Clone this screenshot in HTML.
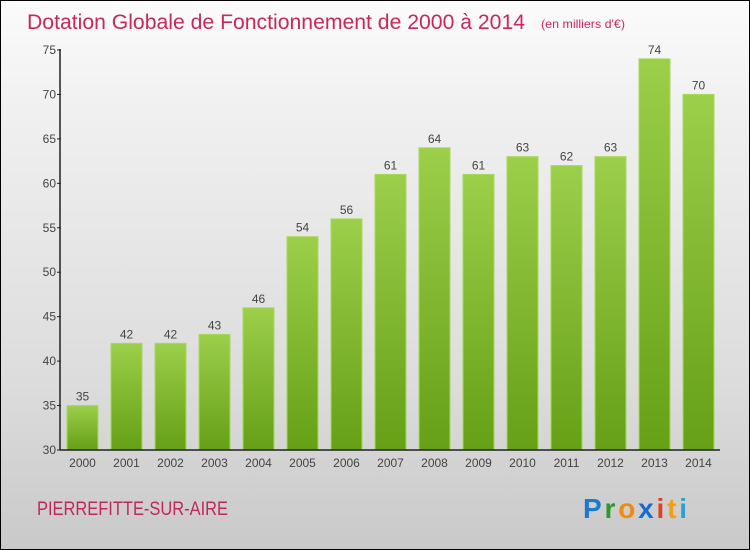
<!DOCTYPE html>
<html><head><meta charset="utf-8"><style>
body{margin:0}
#c{position:relative;width:748px;height:548px;border:1px solid #000;background:linear-gradient(#fbfbfb,#f0f0f0 20%,#dcdcdc 70%,#c9c9c9);font-family:"Liberation Sans",sans-serif;overflow:hidden}
</style></head><body>
<div id="c">
<svg id="s" width="748" height="548">
<defs><linearGradient id="g" x1="0" y1="0" x2="0" y2="1"><stop offset="0" stop-color="#9ccf4a"/><stop offset="1" stop-color="#65a015"/></linearGradient></defs>
<text x="26" y="28" font-size="21" fill="#c8285a" textLength="498" lengthAdjust="spacingAndGlyphs">Dotation Globale de Fonctionnement de 2000 à 2014</text>
<text x="540" y="27" font-size="12" fill="#c8285a" textLength="84" lengthAdjust="spacingAndGlyphs">(en milliers d'€)</text>
<text x="36" y="514" font-size="19" fill="#c0285a" textLength="191" lengthAdjust="spacingAndGlyphs">PIERREFITTE-SUR-AIRE</text>
<text x="582" y="517" font-size="28" font-weight="bold" textLength="104"><tspan fill="#1a7ad0">P</tspan><tspan fill="#2a9a30">r</tspan><tspan fill="#f08a10">o</tspan><tspan fill="#1a6ad0">x</tspan><tspan fill="#e04020">i</tspan><tspan fill="#f0a010">t</tspan><tspan fill="#30a0d0">i</tspan></text>
<g id="plot"></g>
</svg>
</div>
<script>
const years=["2000","2001","2002","2003","2004","2005","2006","2007","2008","2009","2010","2011","2012","2013","2014"];
const values=[35,42,42,43,46,54,56,61,64,61,63,62,63,74,70];
const yTicks=[30,35,40,45,50,55,60,65,70,75];
const NS="http://www.w3.org/2000/svg";
const g=document.getElementById('plot');
const x0=59,x1=719,yb=449,yt=49,vmin=30,vmax=75;
const y=v=>yb-(v-vmin)/(vmax-vmin)*(yb-yt);
const step=44,bw=31,bx=i=>66+i*step;
function el(t,a,txt){const e=document.createElementNS(NS,t);for(const k in a)e.setAttribute(k,a[k]);if(txt!=null)e.textContent=txt;g.appendChild(e);return e;}
years.forEach((yr,i)=>{
 const r=el('rect',{x:bx(i),y:y(values[i]),width:bw,height:yb-y(values[i]),fill:'url(#g)',stroke:'#a8d860','stroke-width':1});
 
 
 const t=el('text',{x:bx(i)+bw/2,y:y(values[i])-5,'font-size':12,fill:'#444','text-anchor':'middle'},values[i]);
 
 
 const xl=el('text',{x:bx(i)+bw/2,y:466,'font-size':12,fill:'#444','text-anchor':'middle'},yr);
 
 
});
yTicks.forEach(v=>{
 const tk=el('line',{x1:x0-3,x2:x0+1,y1:y(v),y2:y(v),stroke:'#222'});
 
 
 const tl=el('text',{x:x0-4,y:y(v)+4,'font-size':12,fill:'#444','text-anchor':'end'},v);
 
 
});
const ya=el('line',{x1:x0,x2:x0,y1:yt-1,y2:yb,stroke:'#222','stroke-width':1.5});


const xa=el('line',{x1:x0,x2:x1,y1:yb,y2:yb,stroke:'#222','stroke-width':1.5});


</script>
</body></html>
